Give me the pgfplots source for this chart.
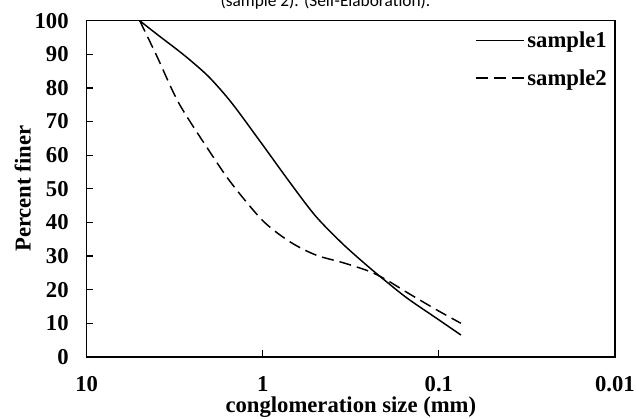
\documentclass[border=0pt]{standalone}
\usepackage{fontspec}
\setmainfont{Liberation Serif}
\newfontfamily\calib{Carlito}
\usepackage{pgfplots}
\pgfplotsset{compat=1.18}
\usetikzlibrary{calc}

\newcommand{\bigbf}{\fontsize{17}{19}\selectfont\bfseries}

\begin{document}
\begin{tikzpicture}
  \begin{axis}[
      name=ax,
      scale only axis, width=396pt, height=252pt,
      xmode=log, x dir=reverse,
      xmin=0.01, xmax=10, ymin=0, ymax=100,
      xtick={10,1,0.1,0.01}, xticklabels={10,1,0.1,0.01},
      ytick={0,10,...,100},
      xtick pos=bottom, ytick pos=left, tick align=inside,
      major tick length=5pt, minor tick length=4pt,
      every tick/.style={black, line width=0.9pt},
      axis line style={line width=1.1pt},
      /pgf/number format/assume math mode=true,
      tick label style={font=\bigbf},
      yticklabel style={xshift=-10pt},
      xticklabel style={yshift=-11pt},
      xlabel={conglomeration size (mm)},
      ylabel={Percent finer},
      label style={font=\bigbf},
      xlabel style={at={(axis description cs:0.5,0)}, anchor=base, yshift=-41.5pt},
      ylabel style={at={(axis description cs:0,0.5)}, anchor=center, yshift=48pt},
      legend style={at={(rel axis cs:1,1)}, anchor=north east, xshift=-1pt, yshift=-4pt,
        draw=none, fill=none, font=\bigbf,
        row sep=11pt, cells={anchor=west}},
      legend image code/.code={\draw[#1] (0pt,0pt) -- (36pt,0pt);},
    ]
    \addplot[black, line width=1.1pt, smooth] coordinates {
      (5,100) (4,96) (3,91) (2.5,87.6) (2,83) (1.5,75.5) (1.0,63)
      (0.7,51.8) (0.5,41.8) (0.35,33.5) (0.25,26.7) (0.2,22.5)
      (0.15,17.3) (0.1,11) (0.075,6.5)};
    \addplot[black, line width=1.1pt, smooth, dash pattern=on 9pt off 4.5pt] coordinates {
      (5,100) (4,89.5) (3,75.5) (2,61) (1.5,51.5) (1.0,40.5)
      (0.7,34.2) (0.5,30.3) (0.35,28) (0.25,25.5) (0.2,23)
      (0.15,19) (0.1,13.6) (0.075,10)};
    \legend{sample1,sample2}
  \end{axis}
  \pgfresetboundingbox
  \useasboundingbox ($(ax.south west)+(-65pt,-46pt)$) rectangle ($(ax.north east)+(15.75pt,15.5pt)$);
  \node[anchor=base, font=\calib\fontsize{13}{15}\selectfont] at ($(ax.north west)+(179pt,11pt)$) {(sample 2). (Self-Elaboration).};
\end{tikzpicture}
\end{document}
